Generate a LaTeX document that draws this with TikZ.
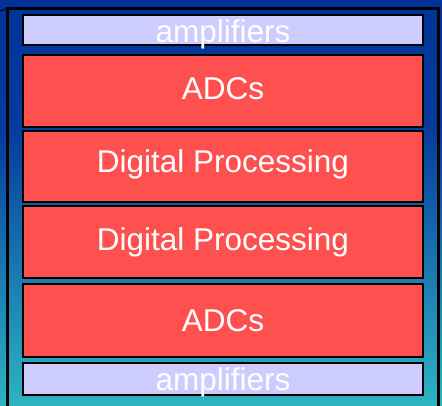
\documentclass[tikz,border=0pt]{standalone}
\usepackage{fontspec}
\setmainfont{Liberation Sans}
\definecolor{deepblue}{HTML}{003399}
\definecolor{midblue}{HTML}{063B9D}
\definecolor{teal}{HTML}{2DB4C2}
\definecolor{stagered}{HTML}{FF5050}
\definecolor{lavender}{HTML}{CCCCFF}
\begin{document}
\begin{tikzpicture}[x=1pt,y=-1pt,
  stage/.style={draw=black,line width=2.4pt,minimum width=400pt,inner sep=0pt,outer sep=0pt},
  redstage/.style={stage,fill=stagered},
  ampstage/.style={stage,fill=lavender},
  stagelabel/.style={text=white,anchor=base,inner sep=0pt,font=\fontsize{31.5}{36}\selectfont},
  frame/.style={draw=black,line width=2.6pt}]
  \useasboundingbox (0,0) rectangle (442,406);
  % background gradient
  \shade[top color=deepblue,bottom color=midblue] (0,0) rectangle (442,131);
  \shade[top color=midblue,bottom color=teal] (0,130) rectangle (442,406);
  % outer frame
  \coordinate (fbl) at (7.5,406);
  \coordinate (ftl) at (7.5,8.5);
  \coordinate (ftr) at (438.5,8.5);
  \coordinate (fbr) at (438.5,406);
  \draw[frame] (fbl) -- (ftl) -- (ftr) -- (fbr);
  \coordinate (tk) at (0,11);
  \draw[black,line width=1.2pt] (tk) -- (ftl);
  % stages
  \node[ampstage,minimum height=30pt] (amp1) at (223,30) {};
  \node[redstage,minimum height=72pt] (adc1) at (223,91) {};
  \node[redstage,minimum height=71pt] (dp1) at (223,166.5) {};
  \node[redstage,minimum height=72pt] (dp2) at (223,242) {};
  \node[redstage,minimum height=73pt] (adc2) at (223,320.5) {};
  \node[ampstage,minimum height=32pt] (amp2) at (223,379) {};
  % labels
  \node[stagelabel] (tamp1) at (223,43) {amplifiers};
  \node[stagelabel] (tadc1) at (223,100) {ADCs};
  \node[stagelabel] (tdp1) at (223,173) {Digital Processing};
  \node[stagelabel] (tdp2) at (223,250.5) {Digital Processing};
  \node[stagelabel] (tadc2) at (223,331) {ADCs};
  \node[stagelabel] (tamp2) at (223,390) {amplifiers};
\end{tikzpicture}
\end{document}
